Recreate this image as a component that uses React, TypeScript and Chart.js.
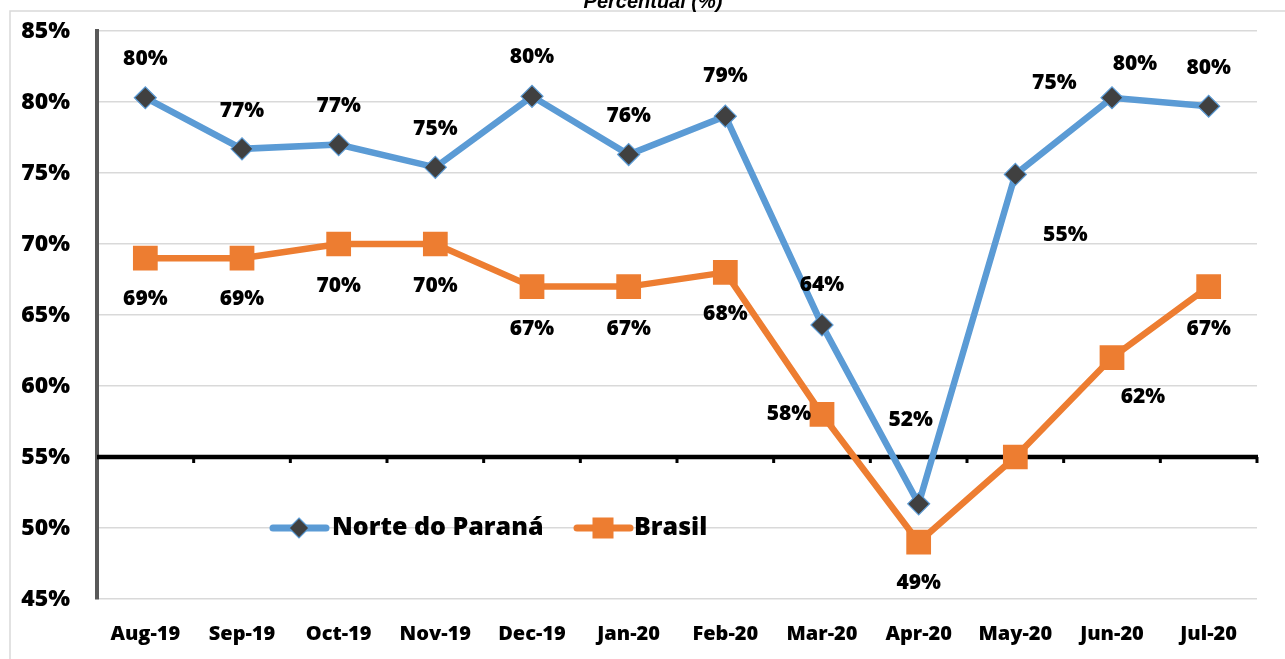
import React, { useEffect, useRef } from 'react';
import { Chart, registerables } from 'chart.js';

Chart.register(...registerables);

const chartTitle = 'Percentual (%)';
const categories = ['Aug-19', 'Sep-19', 'Oct-19', 'Nov-19', 'Dec-19', 'Jan-20', 'Feb-20', 'Mar-20', 'Apr-20', 'May-20', 'Jun-20', 'Jul-20'];
const seriesNames = ['Norte do Paraná', 'Brasil'];
const norteValues = [80.3, 76.7, 77.0, 75.4, 80.4, 76.3, 79.0, 64.3, 51.7, 74.9, 80.3, 79.7];
const brasilValues = [69, 69, 70, 70, 67, 67, 68, 58, 49, 55, 62, 67];
const yMin = 45;
const yMax = 85;
const yStep = 5;
const axisCrossValue = 55;

// label placement offsets (px) relative to each point
const norteLabelOffsets = [[0, -39], [0, -38], [0, -39], [0, -38], [0, -39], [0, -39], [0, -40], [0, -40], [-8, -84], [39, -91], [23, -34], [0, -38]];
const brasilLabelOffsets = [[0, 41], [0, 41], [0, 42], [0, 42], [0, 42], [0, 42], [0, 42], [-33, 0], [0, 41], [50, -222], [31, 39], [0, 42]];

const BLUE = '#5B9BD5';
const ORANGE = '#ED7D31';
const MARKER_DARK = '#404040';
const FONT = '"Open Sans", Lato, sans-serif';
const WEIGHT = 800;

const fmt = (v: number) => `${Math.round(v)}%`;

const framePlugin = {
  id: 'frame',
  beforeDraw(chart: any) {
    const { ctx, width, height } = chart;
    ctx.save();
    ctx.fillStyle = '#ffffff';
    ctx.fillRect(0, 0, width, height);
    ctx.strokeStyle = '#d9d9d9';
    ctx.lineWidth = 1.5;
    ctx.beginPath();
    ctx.moveTo(10, height);
    ctx.lineTo(10, 11);
    ctx.lineTo(width, 11);
    ctx.stroke();
    ctx.font = 'italic bold 20px "Liberation Sans", Arial, sans-serif';
    ctx.fillStyle = '#000';
    ctx.textAlign = 'center';
    ctx.textBaseline = 'alphabetic';
    ctx.fillText(chartTitle, 653, 8);
    ctx.restore();
  },
};

const crossAxisPlugin = {
  id: 'crossAxis',
  beforeDatasetsDraw(chart: any) {
    const { ctx, chartArea } = chart;
    const x = chart.scales.x;
    const y = chart.scales.y;
    const yp = y.getPixelForValue(axisCrossValue);
    ctx.save();
    ctx.strokeStyle = '#000';
    ctx.lineWidth = 4.5;
    ctx.beginPath();
    ctx.moveTo(chartArea.left, yp);
    ctx.lineTo(chartArea.right + 1, yp);
    ctx.stroke();
    ctx.lineWidth = 3;
    const n = categories.length;
    for (let i = 0; i < n; i++) {
      const bx = i < n - 1 ? (x.getPixelForValue(i) + x.getPixelForValue(i + 1)) / 2 : chartArea.right;
      ctx.beginPath();
      ctx.moveTo(bx, yp);
      ctx.lineTo(bx, yp + 6);
      ctx.stroke();
    }
    ctx.restore();
  },
};

const labelsPlugin = {
  id: 'valueLabels',
  afterDatasetsDraw(chart: any) {
    const { ctx } = chart;
    ctx.save();
    ctx.font = `${WEIGHT} 21px ${FONT}`;
    ctx.fillStyle = '#000';
    ctx.textAlign = 'center';
    ctx.textBaseline = 'middle';
    const sets = [
      { idx: 0, vals: norteValues, offs: norteLabelOffsets },
      { idx: 1, vals: brasilValues, offs: brasilLabelOffsets },
    ];
    sets.forEach(({ idx, vals, offs }) => {
      const meta = chart.getDatasetMeta(idx);
      meta.data.forEach((pt: any, i: number) => {
        ctx.fillText(fmt(vals[i]), pt.x + offs[i][0], pt.y + offs[i][1]);
      });
    });
    ctx.restore();
  },
};

const legendPlugin = {
  id: 'customLegend',
  afterDatasetsDraw(chart: any) {
    const { ctx } = chart;
    const yp = chart.scales.y.getPixelForValue(50);
    ctx.save();
    ctx.lineCap = 'round';
    ctx.lineWidth = 7;
    ctx.strokeStyle = BLUE;
    ctx.beginPath();
    ctx.moveTo(273, yp);
    ctx.lineTo(326, yp);
    ctx.stroke();
    ctx.lineCap = 'butt';
    ctx.fillStyle = MARKER_DARK;
    ctx.strokeStyle = BLUE;
    ctx.lineWidth = 1.2;
    ctx.beginPath();
    ctx.moveTo(299, yp - 10);
    ctx.lineTo(309, yp);
    ctx.lineTo(299, yp + 10);
    ctx.lineTo(289, yp);
    ctx.closePath();
    ctx.fill();
    ctx.stroke();
    ctx.lineCap = 'round';
    ctx.lineWidth = 7;
    ctx.strokeStyle = ORANGE;
    ctx.beginPath();
    ctx.moveTo(577, yp);
    ctx.lineTo(630, yp);
    ctx.stroke();
    ctx.fillStyle = ORANGE;
    ctx.fillRect(603 - 10.5, yp - 10.5, 21, 21);
    ctx.font = `${WEIGHT} 25px ${FONT}`;
    ctx.fillStyle = '#000';
    ctx.textAlign = 'left';
    ctx.textBaseline = 'middle';
    ctx.fillText(seriesNames[0], 332, yp);
    ctx.fillText(seriesNames[1], 634, yp);
    ctx.restore();
  },
};

export default function App() {
  const ref = useRef<HTMLCanvasElement | null>(null);
  useEffect(() => {
    const canvas = ref.current;
    if (!canvas) return;
    const chart = new Chart(canvas, {
      type: 'line',
      data: {
        labels: categories,
        datasets: [
          {
            label: seriesNames[0],
            data: norteValues,
            borderColor: BLUE,
            borderWidth: 6.5,
            tension: 0,
            pointStyle: 'rectRot',
            pointRadius: 11,
            pointBackgroundColor: MARKER_DARK,
            pointBorderColor: BLUE,
            pointBorderWidth: 1.2,
            order: 2,
          },
          {
            label: seriesNames[1],
            data: brasilValues,
            borderColor: ORANGE,
            borderWidth: 6.5,
            tension: 0,
            pointStyle: 'rect',
            pointRadius: 17.5,
            pointBackgroundColor: ORANGE,
            pointBorderColor: ORANGE,
            pointBorderWidth: 0,
            order: 1,
          },
        ],
      },
      options: {
        responsive: false,
        animation: false,
        layout: { padding: { left: 0, top: 31, right: 28, bottom: 0 } },
        plugins: {
          legend: { display: false },
          title: { display: false },
          tooltip: { enabled: false },
        },
        scales: {
          x: {
            type: 'category',
            offset: true,
            grid: { display: false, drawTicks: false },
            border: { display: false },
            ticks: {
              color: '#000',
              font: { family: FONT, size: 20, weight: WEIGHT },
              padding: 23,
              maxRotation: 0,
              autoSkip: false,
            },
            afterFit(s: any) { s.height = 60; s.paddingLeft = 0; s.paddingRight = 0; },
          },
          y: {
            min: yMin,
            max: yMax,
            grid: { color: '#d9d9d9', lineWidth: 1.5, drawTicks: false },
            border: { display: true, color: '#595959', width: 4 },
            ticks: {
              stepSize: yStep,
              color: '#000',
              font: { family: FONT, size: 23, weight: WEIGHT },
              padding: 27,
              callback: (v: any) => `${v}%`,
            },
            afterFit(s: any) { s.width = 97; s.paddingTop = 0; s.paddingBottom = 0; },
          },
        },
      },
      plugins: [framePlugin, crossAxisPlugin, labelsPlugin, legendPlugin],
    });
    return () => chart.destroy();
  }, []);
  return (
    <div style={{ position: 'fixed', left: 0, top: 0, width: 1285, height: 659 }}>
      <canvas ref={ref} width={1285} height={659} style={{ display: 'block' }} />
    </div>
  );
}
